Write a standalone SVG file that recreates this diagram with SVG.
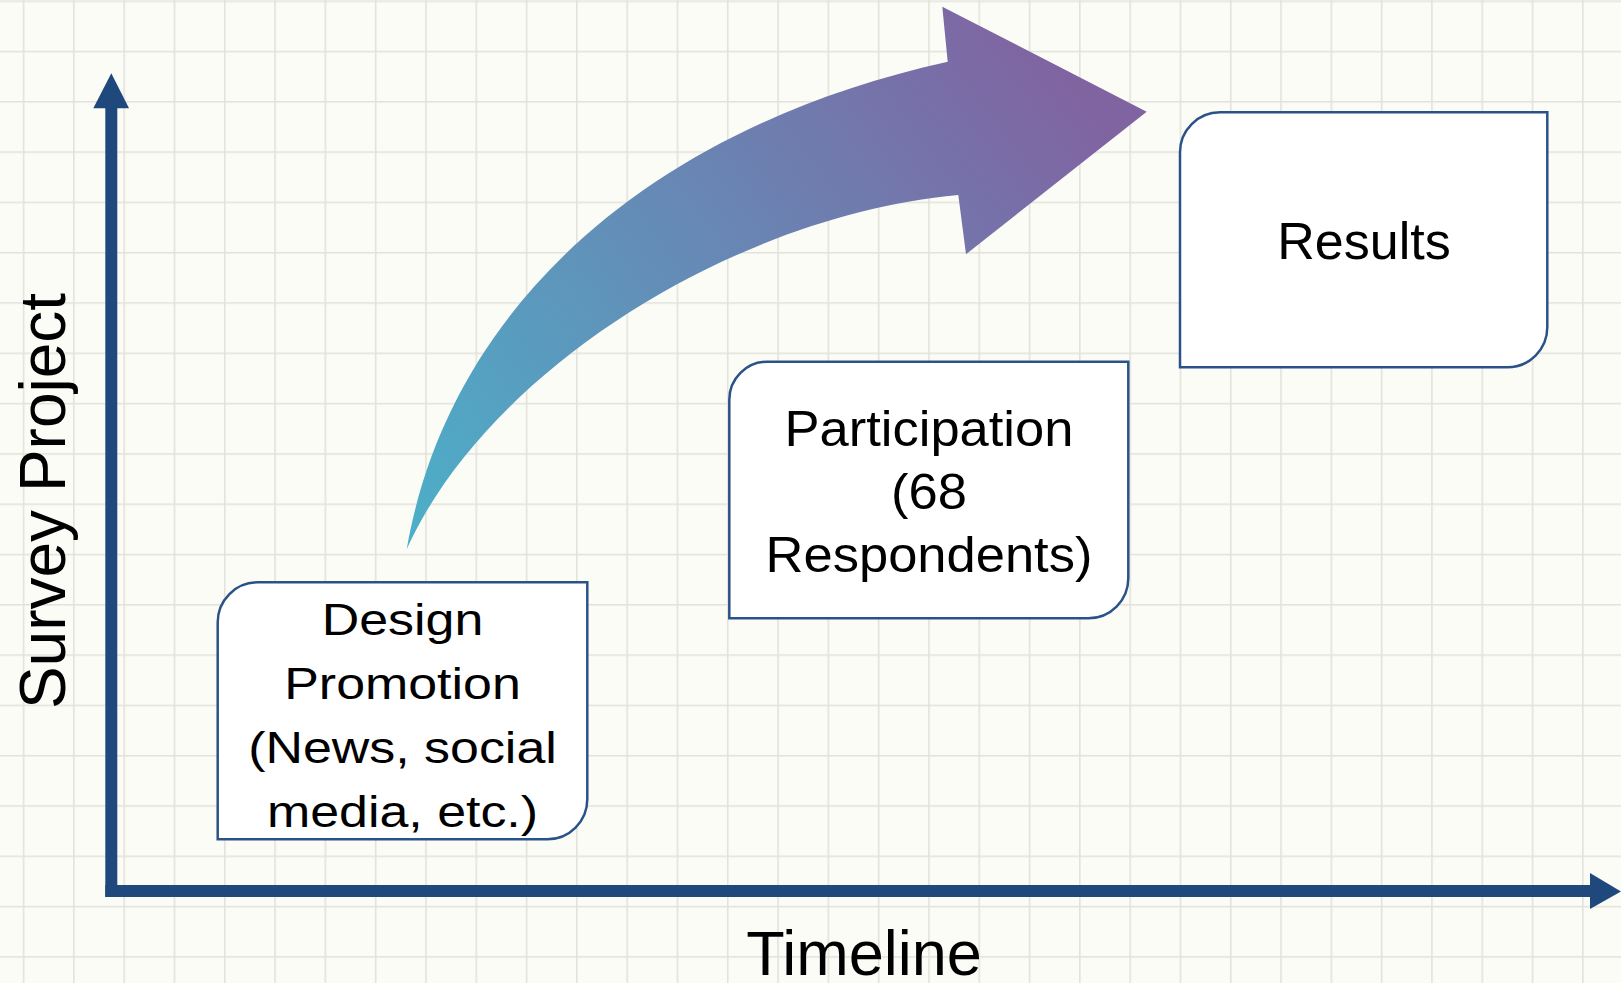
<svg xmlns="http://www.w3.org/2000/svg" width="1621" height="983" viewBox="0 0 1621 983">
<defs>
<style>
.lbl{font-family:"Liberation Sans",Arial,sans-serif;fill:#000;text-anchor:middle}
.box{fill:#fff;stroke:#2a5288;stroke-width:2.5}
.axis{fill:#1f497d}
</style>
<pattern id="grid" x="22.75" y="0.45" width="50.3" height="50.3" patternUnits="userSpaceOnUse">
<path d="M0 0.75 H50.3 M0.75 0 V50.3" stroke="#e2e2db" stroke-width="1.6" fill="none"/>
</pattern>
<linearGradient id="arrowGrad" gradientUnits="userSpaceOnUse" x1="407" y1="549" x2="1060" y2="70">
<stop offset="0" stop-color="#4bb0c9"/>
<stop offset="1" stop-color="#8064a2"/>
</linearGradient>
</defs>
<rect width="1621" height="983" fill="#fcfcf7"/>
<rect width="1621" height="983" fill="url(#grid)"/>

<g id="axes">
<rect class="axis" x="105.3" y="106" width="12" height="791"/>
<polygon class="axis" points="93.3,108.3 111.3,73.3 129,108.3"/>
<rect class="axis" x="105.3" y="885" width="1486" height="12"/>
<polygon class="axis" points="1590,873 1621,891.5 1590,909"/>
<text class="lbl" font-size="64" transform="translate(65,501) rotate(-90)">Survey Project</text>
<text class="lbl" font-size="63" x="864" y="975">Timeline</text>
</g>

<g id="connectors">
<path fill="url(#arrowGrad)" d="M406.7,549.3 C449.2,303.1 654.9,126.5 947.7,61.7 L942.3,6.7 L1146.7,111.7 L966,254.3 L958.3,195 C739.2,214.8 488.7,367.3 406.7,549.3 Z"/>
</g>

<g id="node-design">
<path class="box" d="M257.7,582.3 H587.3 V799.3 A40 40 0 0 1 547.3,839.3 H217.7 V622.3 A40 40 0 0 1 257.7,582.3 Z"/>
<text class="lbl" font-size="44" transform="translate(402.5,635) scale(1.18 1)"><tspan x="0" y="0">Design</tspan><tspan x="0" y="64">Promotion</tspan><tspan x="0" y="128">(News, social</tspan><tspan x="0" y="192">media, etc.)</tspan></text>
</g>

<g id="node-participation">
<path class="box" d="M767.3,361.7 H1128.3 V578.3 A40 40 0 0 1 1088.3,618.3 H729.3 V399.7 A38 38 0 0 1 767.3,361.7 Z"/>
<text class="lbl" font-size="50" transform="translate(929,446) scale(1.05 1)"><tspan x="0" y="0">Participation</tspan><tspan x="0" y="63">(68</tspan><tspan x="0" y="126">Respondents)</tspan></text>
</g>

<g id="node-results">
<path class="box" d="M1220,112.3 H1547.3 V327.3 A40 40 0 0 1 1507.3,367.3 H1180 V152.3 A40 40 0 0 1 1220,112.3 Z"/>
<text class="lbl" font-size="52" x="1364" y="259">Results</text>
</g>
</svg>
